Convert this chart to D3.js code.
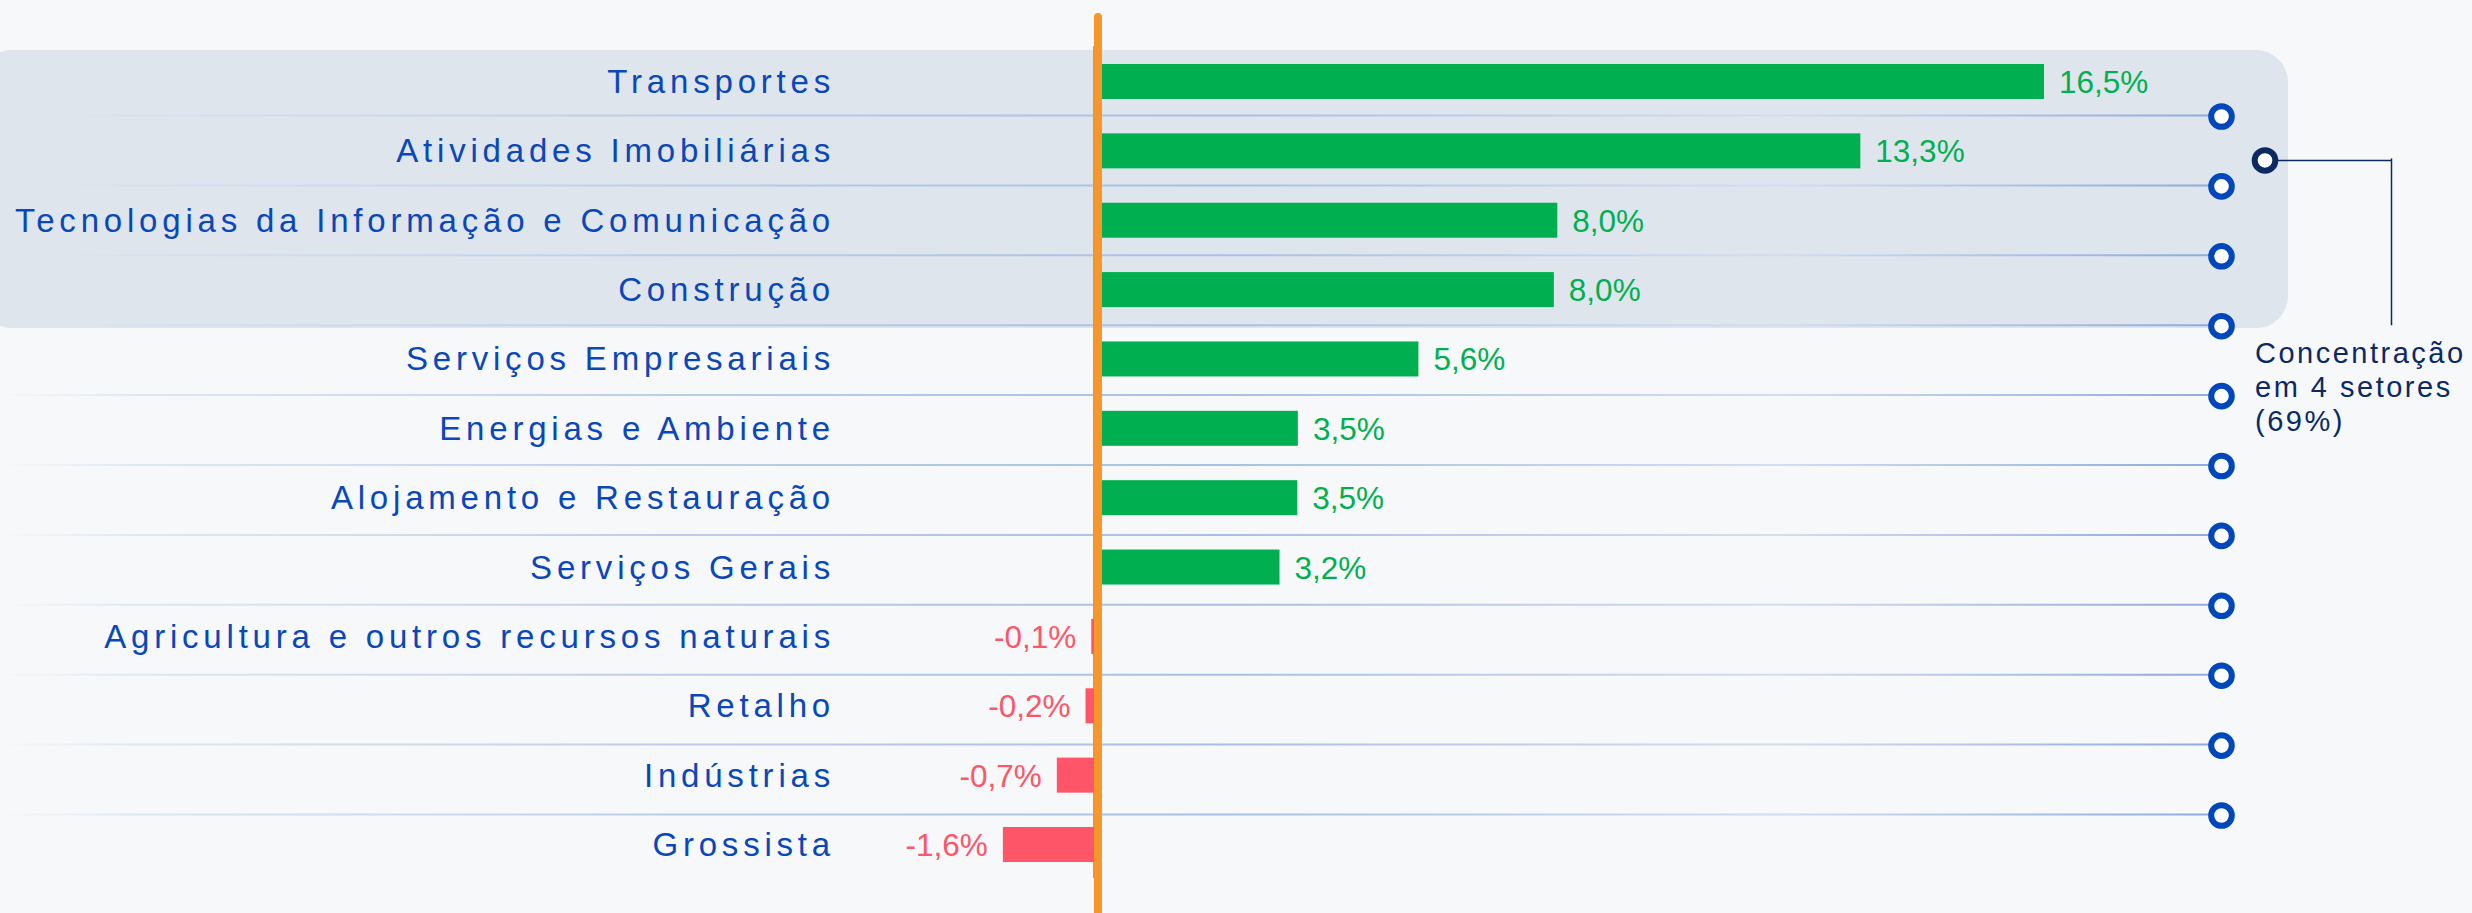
<!DOCTYPE html>
<html>
<head>
<meta charset="utf-8">
<script src="https://cdn.jsdelivr.net/npm/d3@7"></script>
<style>
  html, body { margin: 0; padding: 0; background: #f6f8fa; }
  svg { display: block; }
</style>
</head>
<body>
<svg id="chart" width="2472" height="913"></svg>
<script>
// ---- data ----
const categories = [
  "Transportes",
  "Atividades Imobiliárias",
  "Tecnologias da Informação e Comunicação",
  "Construção",
  "Serviços Empresariais",
  "Energias e Ambiente",
  "Alojamento e Restauração",
  "Serviços Gerais",
  "Agricultura e outros recursos naturais",
  "Retalho",
  "Indústrias",
  "Grossista"
];
const values = [16.5, 13.3, 8.02, 7.96, 5.6, 3.5, 3.49, 3.18, -0.1, -0.2, -0.7, -1.64];
const highlightCount = 4;
const annotationLines = ["Concentração", "em 4 setores", "(69%)"];

// ---- layout ----
const W = 2472, H = 913;
const svg = d3.select("#chart");

const x = d3.scaleLinear().domain([0, 16.5]).range([1097, 2044]);
const y = d3.scaleBand().domain(categories).range([64, 862]).paddingInner(0.4954).paddingOuter(0);
const sepY = d3.scalePoint().domain(categories.slice(0, categories.length - 1)).range([115.5, 814.5]);

const fmt = v => (v < 0 ? "-" : "") + Math.abs(v).toFixed(1).replace(".", ",") + "%";

const blue = "#0a47b8";
const circleBlue = "#0047bb";
const navy = "#0b2a63";
const green = "#00b050";
const red = "#ff5568";
const orange = "#f7962a";

// defs: gradient for separator lines
const defs = svg.append("defs");
const grad = defs.append("linearGradient")
  .attr("id", "sepGrad").attr("gradientUnits", "userSpaceOnUse")
  .attr("x1", 0).attr("x2", 2222).attr("y1", 0).attr("y2", 0);
[[0, "#dfe7f2", 0], [0.06, "#d4e0f0", 0.7], [0.3, "#bccde9", 1], [0.55, "#a9bfe3", 1],
 [0.8, "#d3def0", 1], [0.95, "#9fb6e0", 1], [1, "#8fa9da", 1]].forEach(s => {
  grad.append("stop").attr("offset", s[0]).attr("stop-color", s[1]).attr("stop-opacity", s[2]);
});

// highlight band
const hlTop = y(categories[0]) - 14;
const hlBottom = y(categories[highlightCount - 1]) + y.bandwidth() + 21;
svg.append("rect")
  .attr("x", -20).attr("y", hlTop)
  .attr("width", 2288 + 20).attr("height", hlBottom - hlTop)
  .attr("rx", 32).attr("ry", 32)
  .attr("fill", "#dee5ed");

// separator lines
svg.append("g").selectAll("line")
  .data(categories.slice(0, categories.length - 1))
  .join("line")
  .attr("x1", 0).attr("x2", 2221)
  .attr("y1", d => sepY(d)).attr("y2", d => sepY(d))
  .attr("stroke", "url(#sepGrad)").attr("stroke-width", 2);

// axis line (thin gray)
svg.append("line")
  .attr("x1", 1093.5).attr("x2", 1093.5)
  .attr("y1", 46).attr("y2", 878)
  .attr("stroke", "#9aa3ad").attr("stroke-width", 1);

// bars
svg.append("g").selectAll("rect")
  .data(values)
  .join("rect")
  .attr("x", d => Math.min(x(0), x(d)))
  .attr("y", (d, i) => y(categories[i]))
  .attr("width", d => Math.abs(x(d) - x(0)))
  .attr("height", y.bandwidth())
  .attr("fill", d => d >= 0 ? green : red);

// value labels
svg.append("g").selectAll("text")
  .data(values)
  .join("text")
  .attr("x", d => d >= 0 ? x(d) + 15 : x(d) - 15)
  .attr("y", (d, i) => y(categories[i]) + y.bandwidth() / 2 + 11.5)
  .attr("text-anchor", d => d >= 0 ? "start" : "end")
  .attr("font-family", "Liberation Sans, Arial, sans-serif")
  .attr("font-size", 31.5)
  .attr("fill", d => d >= 0 ? green : red)
  .text(d => fmt(d));

// category labels
svg.append("g").selectAll("text")
  .data(categories)
  .join("text")
  .attr("x", 835)
  .attr("y", d => y(d) + y.bandwidth() / 2 + 11.5)
  .attr("text-anchor", "end")
  .attr("font-family", "Liberation Sans, Arial, sans-serif")
  .attr("font-size", 33)
  .attr("letter-spacing", 4.8)
  .attr("fill", blue)
  .text(d => d);

// zero line (orange)
svg.append("line")
  .attr("x1", 1098).attr("x2", 1098)
  .attr("y1", 17).attr("y2", H + 10)
  .attr("stroke", orange).attr("stroke-width", 8)
  .attr("stroke-linecap", "round");

// circles at separator ends
svg.append("g").selectAll("circle")
  .data(categories.slice(0, categories.length - 1))
  .join("circle")
  .attr("cx", 2221.5)
  .attr("cy", d => sepY(d) + 1)
  .attr("r", 10.3)
  .attr("fill", "#ffffff")
  .attr("stroke", circleBlue)
  .attr("stroke-width", 6);

// annotation bracket
const annY = (sepY(categories[0]) + sepY(categories[1])) / 2 + 10;
const annBottom = sepY(categories[highlightCount - 1]);
svg.append("line")
  .attr("x1", 2265).attr("x2", 2392)
  .attr("y1", annY).attr("y2", annY)
  .attr("stroke", navy).attr("stroke-width", 1.5);
svg.append("line")
  .attr("x1", 2391.5).attr("x2", 2391.5)
  .attr("y1", annY - 2).attr("y2", annBottom)
  .attr("stroke", navy).attr("stroke-width", 1.5);
svg.append("circle")
  .attr("cx", 2265).attr("cy", annY)
  .attr("r", 10.3)
  .attr("fill", "#ffffff")
  .attr("stroke", navy)
  .attr("stroke-width", 6);

svg.append("g").selectAll("text")
  .data(annotationLines)
  .join("text")
  .attr("x", 2255)
  .attr("y", (d, i) => 362.5 + i * 34)
  .attr("font-family", "Liberation Sans, Arial, sans-serif")
  .attr("font-size", 29)
  .attr("letter-spacing", 2.5)
  .attr("fill", navy)
  .text(d => d);
</script>
</body>
</html>
